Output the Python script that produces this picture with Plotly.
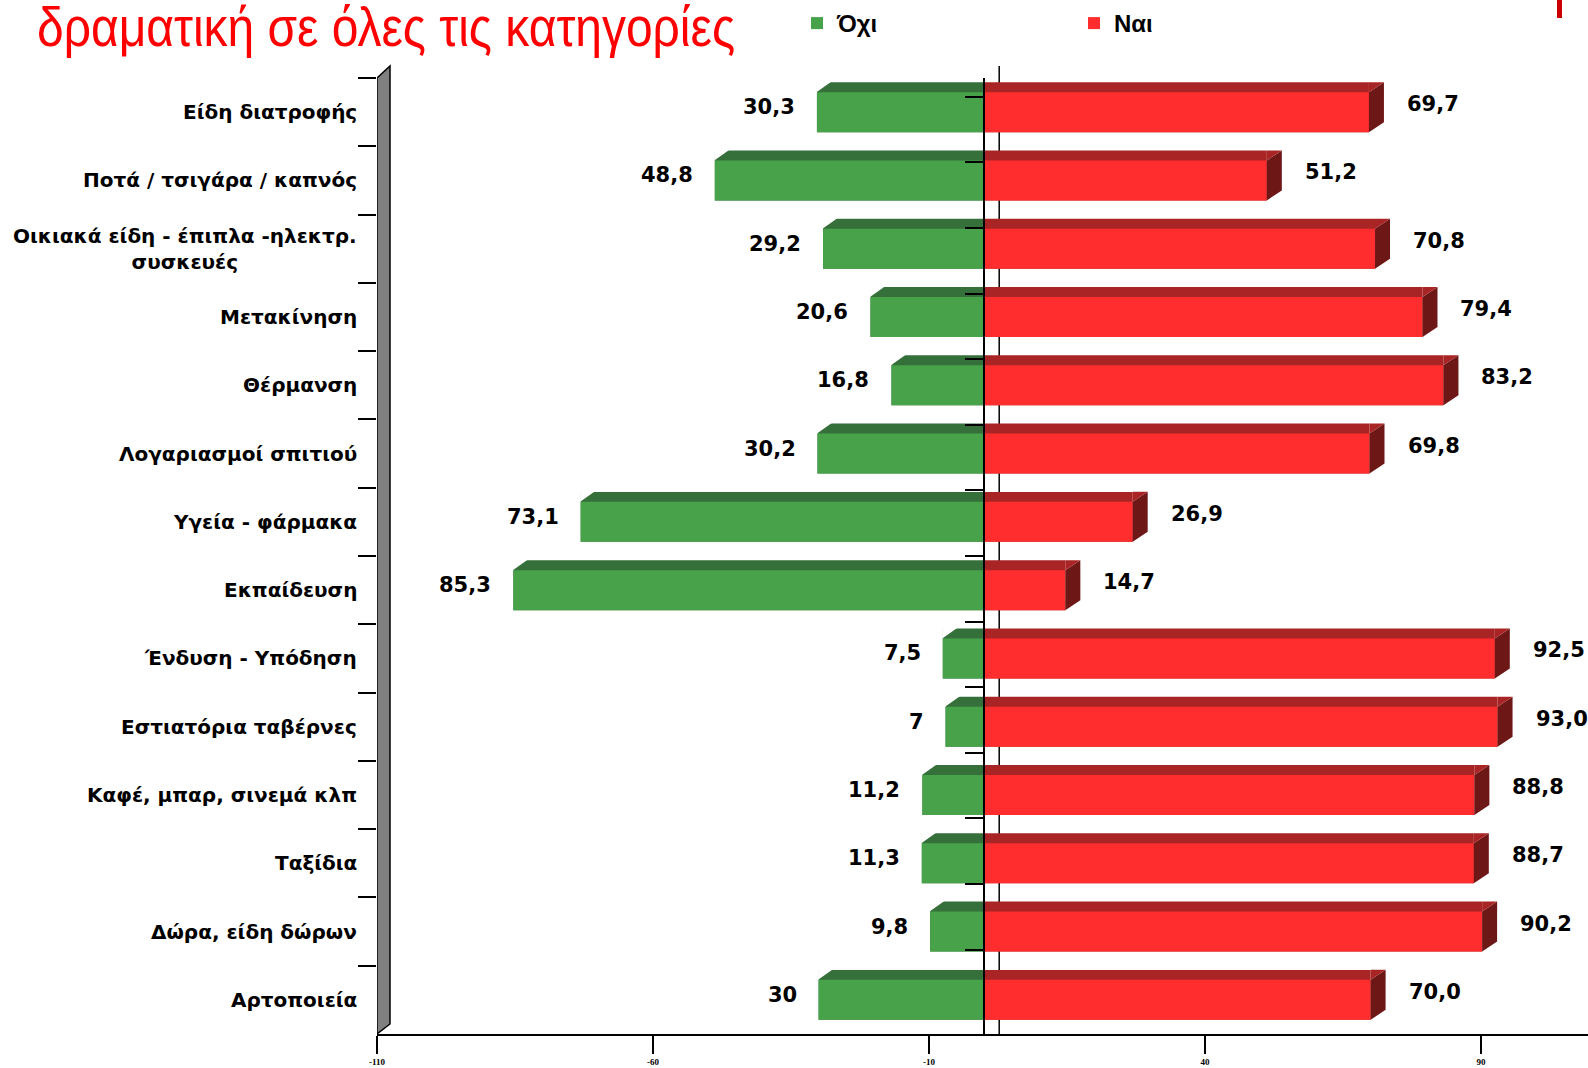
import plotly.graph_objects as go

# ---- data ----
categories = [
    "Είδη διατροφής",
    "Ποτά / τσιγάρα / καπνός",
    "Οικιακά είδη - έπιπλα -ηλεκτρ.<br>συσκευές",
    "Μετακίνηση",
    "Θέρμανση",
    "Λογαριασμοί σπιτιού",
    "Υγεία - φάρμακα",
    "Εκπαίδευση",
    "Ένδυση - Υπόδηση",
    "Εστιατόρια ταβέρνες",
    "Καφέ, μπαρ, σινεμά κλπ",
    "Ταξίδια",
    "Δώρα, είδη δώρων",
    "Αρτοποιεία",
]
ochi = [30.3, 48.8, 29.2, 20.6, 16.8, 30.2, 73.1, 85.3, 7.5, 7, 11.2, 11.3, 9.8, 30]
nai = [69.7, 51.2, 70.8, 79.4, 83.2, 69.8, 26.9, 14.7, 92.5, 93.0, 88.8, 88.7, 90.2, 70.0]
x_tickvals = [-110, -60, -10, 40, 90]
title_text = "δραματική σε όλες τις κατηγορίες"

# ---- layout geometry ----
W, H = 1588, 1068
L, R, T, B = 377, 0, 78, 34
PW, PH = W - L - R, H - T - B
XMIN = -110
XMAX = XMIN + PW / 5.52

def px_to_paper_x(px):
    return (px - L) / PW

def px_to_paper_y(py):
    return (H - B - py) / PH

def fmt_ochi(v):
    return f"{v:g}".replace(".", ",")

def fmt_nai(v):
    return f"{v:.1f}".replace(".", ",")

GREEN = "#47a24a"
GREEN_TOP = "#356f3a"
RED = "#ff2d2d"
RED_TOP = "#a92424"
RED_SIDE = "#6e1717"

fig = go.Figure()
neg = [-v for v in ochi]
# top faces (3D look)
fig.add_trace(go.Bar(y=categories, x=neg, orientation="h", width=0.732, offset=-0.439,
                     marker=dict(color=GREEN_TOP, line=dict(width=0)), showlegend=False, hoverinfo="skip"))
fig.add_trace(go.Bar(y=categories, x=nai, orientation="h", width=0.732, offset=-0.439,
                     marker=dict(color=RED_TOP, line=dict(width=0)), showlegend=False, hoverinfo="skip"))
# front faces
fig.add_trace(go.Bar(y=categories, x=neg, orientation="h", width=0.586, offset=-0.293,
                     name="Όχι", marker=dict(color=GREEN, line=dict(width=0)), hoverinfo="skip"))
fig.add_trace(go.Bar(y=categories, x=nai, orientation="h", width=0.586, offset=-0.293,
                     name="Ναι", marker=dict(color=RED, line=dict(width=0)), hoverinfo="skip"))
# invisible trace carrying the zero-position category axis
fig.add_trace(go.Scatter(y=categories, x=[0] * len(categories), yaxis="y2", mode="markers",
                         marker=dict(opacity=0), showlegend=False, hoverinfo="skip"))

annotations = []
label_font = dict(family="DejaVu Sans", size=20, color="black", weight="bold")
value_font = dict(family="DejaVu Sans", size=21, color="black", weight="bold")
for c in categories:
    annotations.append(dict(x=XMIN, y=c, xref="x", yref="y", text=c, showarrow=False,
                            xanchor="right", xshift=-18, align="center", font=label_font))
for c, v in zip(categories, ochi):
    annotations.append(dict(x=-v, y=c, xref="x", yref="y", text=fmt_ochi(v), showarrow=False,
                            xanchor="right", xshift=-20, yshift=5, font=value_font))
for c, v in zip(categories, nai):
    annotations.append(dict(x=v, y=c, xref="x", yref="y", text=fmt_nai(v), showarrow=False,
                            xanchor="left", xshift=36, yshift=8, font=value_font))

shapes = [
    # back line of the 3D zero plane
    dict(type="line", xref="x", xsizemode="pixel", xanchor=0, x0=15, x1=15,
         yref="paper", y0=0, y1=px_to_paper_y(66), line=dict(color="black", width=1.5), layer="below"),
    # grey side wall
    dict(type="path", xref="x", xsizemode="pixel", xanchor=XMIN,
         yref="paper", ysizemode="pixel", yanchor=0,
         path=f"M0,0 L13,10 L13,{PH + 12} L0,{PH} Z",
         fillcolor="#808080", line=dict(color="black", width=1.5), layer="above"),
    # axis line stub left of the wall
    dict(type="line", xref="x", xsizemode="pixel", xanchor=XMIN, x0=-18, x1=0,
         yref="paper", y0=0, y1=0, line=dict(color="black", width=2)),
    # red mark at top right
    dict(type="rect", xref="paper", yref="paper",
         x0=px_to_paper_x(1557), x1=px_to_paper_x(1562), y0=px_to_paper_y(18), y1=px_to_paper_y(0),
         fillcolor="#cc0000", line=dict(width=0)),
]
# 3D end faces of the bars, anchored at each bar's value
for c, v in zip(categories, nai):
    shapes.append(dict(type="path", xref="x", xsizemode="pixel", xanchor=v,
                       yref="y", ysizemode="pixel", yanchor=c,
                       path="M0,-20 L0,20 L15,30 L15,-10 Z",
                       fillcolor=RED_SIDE, line=dict(width=0), layer="above"))
    shapes.append(dict(type="path", xref="x", xsizemode="pixel", xanchor=v,
                       yref="y", ysizemode="pixel", yanchor=c,
                       path="M0,20 L15,30 L0,30 Z",
                       fillcolor=RED_TOP, line=dict(width=0), layer="above"))
for c, v in zip(categories, ochi):
    shapes.append(dict(type="path", xref="x", xsizemode="pixel", xanchor=-v,
                       yref="y", ysizemode="pixel", yanchor=c,
                       path="M-0.5,20 L-0.5,31 L15,31 Z",
                       fillcolor="white", line=dict(width=0), layer="above"))

fig.update_layout(
    width=W, height=H,
    margin=dict(l=L, r=R, t=T, b=B, pad=0),
    paper_bgcolor="white", plot_bgcolor="white",
    barmode="overlay",
    title=dict(text=title_text,
               font=dict(family="Liberation Sans", size=56, color="#ff0000"),
               xref="container", x=37 / W, xanchor="left", yref="container", y=1 - 7 / H, yanchor="top",
               pad=dict(t=0, l=0)),
    legend=dict(orientation="h", xref="container", yref="container", x=797 / W, xanchor="left",
                y=1 - 1 / H, yanchor="top", entrywidth=232, entrywidthmode="pixels",
                font=dict(family="Liberation Sans", size=24, color="black", weight="bold"),
                bgcolor="rgba(0,0,0,0)", traceorder="normal"),
    xaxis=dict(range=[XMIN, XMAX], tickvals=x_tickvals, ticktext=[str(v) for v in x_tickvals],
               showgrid=False, zeroline=False, showline=True, linecolor="black", linewidth=2,
               ticks="outside", ticklen=18, tickwidth=2, tickcolor="black",
               tickfont=dict(family="Liberation Serif", size=9, color="black", weight="bold")),
    yaxis=dict(type="category", categoryorder="array", categoryarray=categories, autorange="reversed",
               showticklabels=False, showgrid=False, zeroline=False, showline=False,
               ticks="outside", tickson="boundaries", ticklen=18, tickwidth=2, tickcolor="black"),
    yaxis2=dict(type="category", categoryorder="array", categoryarray=categories, autorange="reversed",
                overlaying="y", anchor="free", position=(0 - XMIN) / (XMAX - XMIN), side="left",
                showticklabels=False, showgrid=False, zeroline=False,
                showline=True, linecolor="black", linewidth=2,
                ticks="outside", tickson="boundaries", ticklen=18, tickwidth=2, tickcolor="black"),
    annotations=annotations,
    shapes=shapes,
    hovermode=False,
)

post = (
    "document.body.style.margin='0';document.body.style.overflow='hidden';"
    "var t=document.querySelector('.gtitle');"
    "if(t){t.setAttribute('textLength','698');t.setAttribute('lengthAdjust','spacingAndGlyphs');}"
)
fig.write_html("out.html", config={"displayModeBar": False}, post_script=post)
